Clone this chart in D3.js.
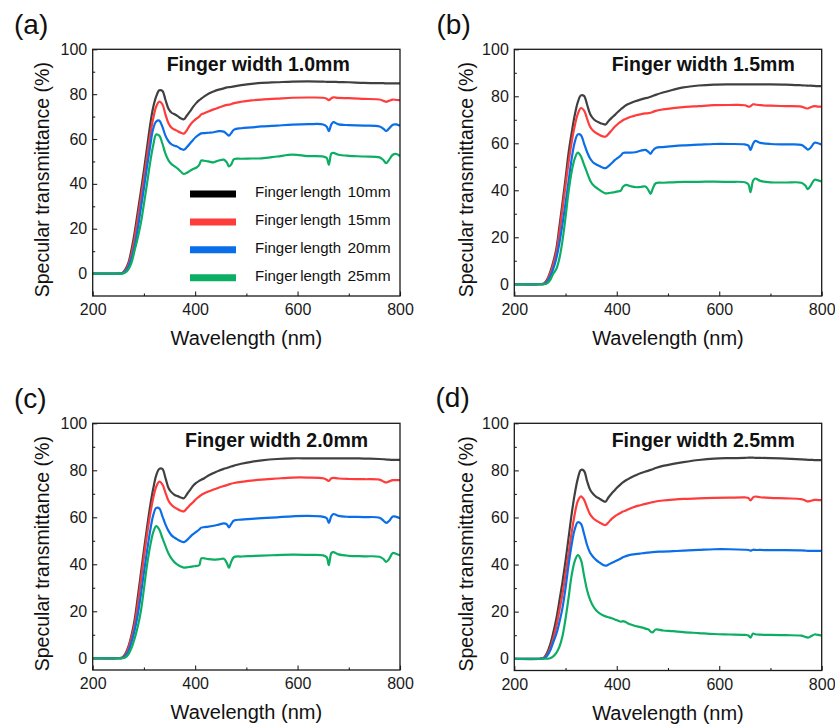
<!DOCTYPE html>
<html>
<head>
<meta charset="utf-8">
<script src="https://cdn.jsdelivr.net/npm/d3@7"></script>
<style>
  body { margin: 0; background: #fff; }
  text { font-family: Arial, "Liberation Sans", sans-serif; }
</style>
</head>
<body>
<div id="chart"></div>
<script>
// wavelength grid (nm) shared by all spectra
var wavelength = [200, 250, 258, 264, 270, 276, 282, 288, 294, 300,
  306, 312, 318, 324, 330, 336, 342, 348, 354, 360,
  366, 372, 378, 384, 390, 396, 402, 408, 412, 418,
  426, 436, 446, 456, 462, 466, 470, 476, 490, 510,
  530, 560, 590, 620, 650, 657, 661, 666, 670, 680,
  700, 730, 760, 768, 773, 778, 786, 793, 800];

// (a) finger width 1.0mm
var a10 = [0,0,0.3,2,5,11,18.5,27.5,36.5,46, 56,66,74,79,81.7,81.5,77.5,73.5,71.7,71,
  70.2,69.2,68.8,70.5,72.3,74.3,76,77.3,78,79, 80.2,81.2,82,82.6,83,83.1,83.2,83.5,84,84.6,
  85,85.3,85.6,85.7,85.6,85.5,85.5,85.5,85.5,85.4, 85.3,85,84.9,84.9,84.8,84.8,84.8,84.8,84.8];
var a15 = [0,0,0.2,1.5,4.2,9,16,24.5,33.5,42.5, 52,61.5,69,74.5,76.7,75.5,71,67,65,64.2,
  63.5,62.8,62.4,64,66.2,67.8,69,70,71,71.5, 72.3,73.2,74,74.8,75.2,75.3,75.5,76,76.6,77.2,
  77.6,78,78.4,78.5,78.4,78,77.3,78.2,78.6,78.3, 78.2,77.9,77.6,77,76.6,77,77.6,77.4,77.3];
var a20 = [0,0,0.1,1,3.2,7,12.5,20,29,38, 47.5,56.5,64.5,67.8,68.2,65.5,61.5,59,57.6,57,
  56.5,55.6,55.2,56.4,58,59.6,61,62,62.5,62.6, 62.8,63,63.5,63.3,62.2,61.5,62.5,64.2,64.8,65.2,
  65.6,66,66.4,66.6,66.5,65.5,63.5,66.5,67.5,66.5, 66.2,66,65.6,64.5,63.6,64.5,66.4,66.5,65.9];
var a25 = [0,0,0,0.5,2,5,10.5,16,22.5,31, 40,49.3,57,62,61.5,58,53.5,50.5,48.8,47.8,
  46.8,45.5,44.4,45,45.8,46.6,47.2,48.5,50.4,50.3, 50,49.6,50.4,50.8,49.5,47.8,48.5,51,51.2,51.3,
  51.4,52.2,53,52.4,52.2,51.5,48.5,53.5,53.8,53, 52.5,52.2,51.8,50.5,49.2,50.5,53,53.3,52.3];

// (b) finger width 1.5mm
var b10 = [0,0,0.3,2,5.2,9.5,15,24.5,34.5,45, 56,64.5,72,77.5,80.4,80.2,76.5,72.5,70.5,69.4,
  68.8,68.3,68,69.5,70.8,72,73.3,74.5,75.2,76.2, 77,77.9,78.6,79.2,79.5,79.8,80.1,80.6,81.6,82.8,
  83.8,84.6,85,85.1,85.1,85.1,85.1,85.1,85.1,85.1, 85.1,85,84.7,84.6,84.5,84.5,84.4,84.3,84.3];
var b15 = [0,0,0.2,1.6,4.5,8.5,13.5,22,32,42, 52,60.5,67.5,72.5,75,74,70.5,67,65.3,64.3,
  63.6,63,62.8,64,65.5,67,68.2,69.2,69.8,70.4, 71.2,71.8,72.3,72.7,72.8,73,73.3,73.8,74.4,75,
  75.4,75.8,76.2,76.3,76.2,75.6,75.8,76.6,76.5,76.2, 76,75.8,75.6,75,74.8,75.3,75.8,75.6,75.6];
var b20 = [0,0,0.1,1,3.2,6.5,11,17.5,25.5,34.5, 44,53.5,60.5,63.8,63.5,60,56.3,53.5,51.8,51,
  50.3,49.7,49.4,50.3,51.5,52.8,53.8,54.8,55.8,56, 56,56.2,56.8,57.2,56.3,55.5,56.8,58,58.4,58.8,
  59.1,59.4,59.7,59.7,59.5,59,57.2,59.8,61,60.2, 59.7,59.5,59.3,58.2,57.3,58,60.2,60,59.4];
var b25 = [0,0,0,0.4,1.8,4.5,6.5,11,18.5,28.5, 39.5,48,53.5,56,54.5,51,47.5,44.2,42.2,41.1,
  40.2,39.3,38.7,38.8,39,39.2,39.5,39.8,41.5,42.3, 41.8,41.3,41.4,41.6,40,38.5,40.5,43,43.2,43.4,
  43.6,43.6,43.7,43.6,43.4,42.5,39.2,44,45,44, 43.4,43.3,43.2,42,40.5,41.8,44.5,44.2,43.7];

// (c) finger width 2.0mm
var c10 = [0,0,0.3,2,5.2,10,16.5,26,36,46, 55.5,64.5,72,77.8,80.6,80.6,76.8,72.5,70.6,69.5,
  69,68.4,68.1,69.8,71.6,73.4,74.6,75.5,76,76.6, 77.8,78.8,79.8,80.6,81,81.3,81.6,82,82.8,83.6,
  84.2,84.8,85.1,85.1,85.1,85.1,85.1,85.1,85.1,85.1, 85.1,85,84.8,84.7,84.6,84.5,84.4,84.4,84.4];
var c15 = [0,0,0.2,1.6,4.5,9,14.5,23,33,43, 52.5,61,68,73,75.2,74,70.5,67,65.2,64.2,
  63.4,62.8,62.5,63.8,65.2,66.4,67.8,68.8,69.5,70.2, 71,71.8,72.6,73.3,73.7,74,74.3,74.6,75.1,75.6,
  76,76.5,76.9,76.9,76.6,76,75.5,76.6,76.8,76.5, 76.3,76.2,76,75.2,74.8,75.2,75.8,75.8,75.8];
var c20 = [0,0,0.1,1,3.2,7,12,18.5,27,36.5, 45.5,54,60.7,64,63.8,60.5,57,54.2,52.3,51.3,
  50.5,49.8,49.4,50.3,51.6,52.8,53.8,54.8,55.6,55.8, 56,56.4,56.9,57.4,57,55.7,57,58.6,59,59.3,
  59.6,60,60.4,60.6,60.2,59.6,57.6,60.5,61.4,60.6, 60.2,60.1,59.8,58.5,57.6,58.3,60.3,60.2,59.6];
var c25 = [0,0,0,0.4,1.8,4.5,8.5,13.5,20,29.5, 39.5,47.5,53.5,56.2,54.8,51.2,47.8,44.6,42.4,40.8,
  39.8,39,38.6,38.7,38.9,39.1,39.3,39.6,42.5,42.5, 42.2,42,42.1,42.3,40.5,38.5,40.8,43.1,43.3,43.5,
  43.7,43.9,44.1,44,43.8,43,39.6,44.8,45.2,44.2, 43.6,43.4,43.2,42.2,41,42,44.8,44.4,43.8];

// (d) finger width 2.5mm
var d10 = [0,0,0.5,2.5,6,11,17,24.5,32.5,41.5, 51.5,61.5,70,76.5,80.2,79.8,75.5,71.8,70,68.8,
  68,67.2,66.7,68.6,70.2,71.6,73,74.2,74.9,75.8, 76.8,77.8,78.8,79.5,79.9,80.2,80.5,81,81.9,82.8,
  83.5,84.4,85,85.2,85.3,85.4,85.4,85.4,85.3,85.3, 85.2,85,84.7,84.6,84.5,84.5,84.4,84.4,84.4];
var d15 = [0,0,0.3,1.8,4.5,8.5,13.8,20.5,27.5,36, 45,53.6,61.5,67,69,67.6,64.3,61.3,59.7,58.7,
  57.9,57.2,56.8,58,59.4,60.5,61.3,62,62.5,63, 63.8,64.6,65.2,65.8,66.1,66.3,66.5,66.8,67.2,67.6,
  67.9,68.1,68.3,68.4,68.5,68.3,67.2,68.5,68.9,68.6, 68.3,68.1,67.8,67.2,66.8,67,67.5,67.4,67.4];
var d20 = [0,0,0.2,1.3,3.5,7,10.5,15.5,21.5,30, 40,48.5,55,58,57.3,53.2,48.3,45,43.2,41.9,
  40.9,40,39.5,40,40.7,41.3,41.9,42.6,43.1,43.6, 44.1,44.4,44.7,45,45.1,45.2,45.3,45.4,45.5,45.7,
  45.9,46.2,46.5,46.5,46.3,46.2,45.9,46.3,46.2,46.2, 46.1,46.1,46,45.9,45.8,45.8,45.8,45.8,45.8];
var d25 = [0,0,0,0,0.2,1,2.5,5,9.5,17, 26,35.5,41.5,44,42,35.5,29.2,25,22.3,20.5,
  19.4,18.6,18,17.6,17.2,16.7,16.2,15.7,16,15.5, 14.6,13.9,13.4,12.8,12.4,11.5,11.2,12.4,12,11.7,
  11.3,10.9,10.5,10.3,10.1,9.9,9,10.7,10.4,10.2, 10.1,10,9.8,9.3,9,9.4,10.3,10.1,9.8];

var tags = ['(a)', '(b)', '(c)', '(d)'];
var titles = ['Finger width 1.0mm', 'Finger width 1.5mm', 'Finger width 2.0mm', 'Finger width 2.5mm'];
var legendLabels = ['10mm', '15mm', '20mm', '25mm'];
var yTicks = [0, 20, 40, 60, 80, 100];
var xTicks = [200, 400, 600, 800];
var yMins = [-10, -5, -5, -5];
var panelData = [[a10, a15, a20, a25], [b10, b15, b20, b25], [c10, c15, c20, c25], [d10, d15, d20, d25]];

var colors = ['#404040', '#ff3b3b', '#0a6ee8', '#0cae63'];
var legendColors = ['#000', '#ff3b3b', '#0a6ee8', '#0cae63'];

// frame boxes of the four panels
var boxes = [
  { left: 92.7, right: 400, top: 49.3, bottom: 296, tagX: 14, tagY: 34, titleX: 166.7, titleY: 70.7, yTitleX: 49 },
  { left: 514.3, right: 821.7, top: 49.3, bottom: 296, tagX: 436.5, tagY: 34, titleX: 611.7, titleY: 70.7, yTitleX: 473 },
  { left: 92.7, right: 400, top: 423.3, bottom: 670, tagX: 14, tagY: 407.5, titleX: 185, titleY: 447.3, yTitleX: 49 },
  { left: 514.3, right: 821.7, top: 423.3, bottom: 670.5, tagX: 435.5, tagY: 407, titleX: 611.7, titleY: 447.3, yTitleX: 473 }
];

var svg = d3.select('#chart').append('svg')
  .attr('width', 835)
  .attr('height', 725);

boxes.forEach(function(b, p) {
  var x = d3.scaleLinear().domain([200, 800]).range([b.left, b.right]);
  var y = d3.scaleLinear().domain([yMins[p], 100]).range([b.bottom, b.top]);
  var g = svg.append('g');

  // minor ticks first (inward)
  g.append('g')
    .attr('transform', `translate(0,${b.bottom})`)
    .call(d3.axisBottom(x).tickValues([300, 500, 700]).tickSize(-2.5).tickFormat(''))
    .call(s => s.select('.domain').remove());
  g.append('g')
    .attr('transform', `translate(${b.left},0)`)
    .call(d3.axisLeft(y).tickValues([10, 30, 50, 70, 90]).tickSize(-2.5).tickFormat(''))
    .call(s => s.select('.domain').remove());

  // major ticks + labels
  var xAxisG = g.append('g')
    .attr('transform', `translate(0,${b.bottom})`)
    .call(d3.axisBottom(x).tickValues(xTicks).tickSize(-4.5).tickPadding(8));
  var yAxisG = g.append('g')
    .attr('transform', `translate(${b.left},0)`)
    .call(d3.axisLeft(y).tickValues(yTicks).tickSize(-4.5).tickPadding(5.5));
  [xAxisG, yAxisG].forEach(function(a) {
    a.select('.domain').remove();
    a.selectAll('text').style('font-size', '16px').attr('fill', '#1a1a1a')
      .style('font-family', 'Arial, "Liberation Sans", sans-serif');
  });
  g.selectAll('.tick line').attr('stroke', '#222').attr('stroke-width', 1.1);

  // curves
  var clipId = 'clip' + p;
  svg.append('clipPath').attr('id', clipId).append('rect')
    .attr('x', b.left).attr('y', b.top)
    .attr('width', b.right - b.left).attr('height', b.bottom - b.top);

  var line = d3.line()
    .x((d, i) => x(wavelength[i]))
    .y(d => y(d))
    .curve(d3.curveCatmullRom.alpha(0.5));

  g.append('g').attr('clip-path', `url(#${clipId})`)
    .selectAll('path').data(panelData[p]).enter()
    .append('path')
    .attr('d', line)
    .attr('fill', 'none')
    .attr('stroke', (d, i) => colors[i])
    .attr('stroke-width', 2.2)
    .attr('stroke-linejoin', 'round');

  // frame
  g.append('rect')
    .attr('x', b.left).attr('y', b.top)
    .attr('width', b.right - b.left).attr('height', b.bottom - b.top)
    .attr('fill', 'none').attr('stroke', '#1a1a1a').attr('stroke-width', 1.3);

  // texts
  g.append('text').attr('x', b.tagX).attr('y', b.tagY)
    .style('font-size', '28px').attr('fill', '#111').text(tags[p]);
  g.append('text').attr('x', b.titleX).attr('y', b.titleY)
    .style('font-size', '19.5px').style('font-weight', 'bold').attr('fill', '#111').text(titles[p]);
  g.append('text')
    .attr('transform', `translate(${(b.left + b.right) / 2},${b.bottom + 49})`)
    .attr('text-anchor', 'middle')
    .style('font-size', '20px').attr('fill', '#111')
    .text('Wavelength (nm)');
  g.append('text')
    .attr('transform', `translate(${b.yTitleX},${(b.top + b.bottom) / 2 + 7}) rotate(-90)`)
    .attr('text-anchor', 'middle')
    .style('font-size', '19.5px').attr('fill', '#111')
    .text('Specular transmittance (%)');
});

// legend only in panel (a)
var leg = svg.append('g');
var legY = d3.scaleLinear().domain([0, 3]).range([194, 277.7]);
legendLabels.forEach(function(lab, i) {
  leg.append('line')
    .attr('x1', 190).attr('x2', 236)
    .attr('y1', legY(i)).attr('y2', legY(i))
    .attr('stroke', legendColors[i]).attr('stroke-width', 7);
  leg.append('text').attr('x', 255).attr('y', legY(i) + 3.3)
    .style('font-size', '15px').style('word-spacing', '-1.5px').attr('fill', '#111').text('Finger length');
  leg.append('text').attr('x', 347.5).attr('y', legY(i) + 3.3)
    .style('font-size', '15.5px').attr('fill', '#111').text(lab);
});
</script>
</body>
</html>
